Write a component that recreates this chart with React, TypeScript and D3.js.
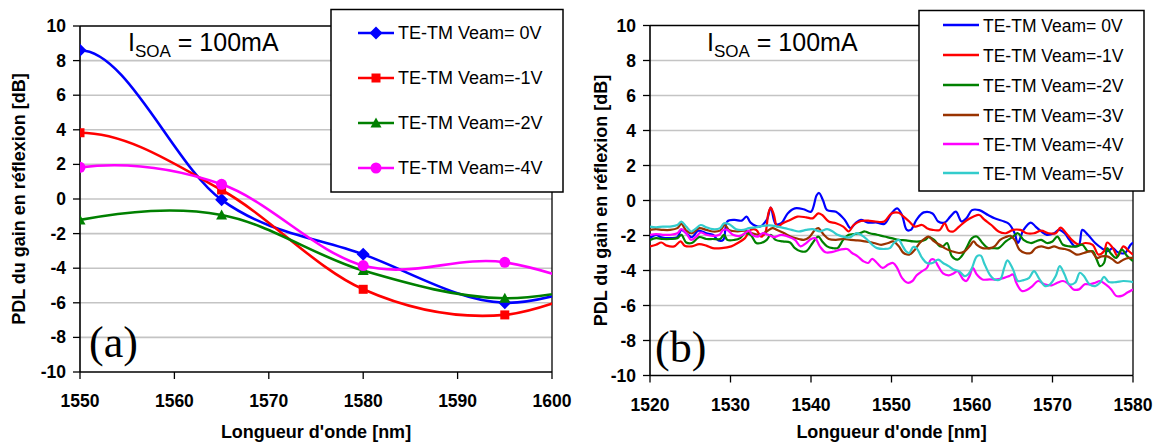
import React from "react";
import * as d3 from "d3";

// ---------- Panel (a) data (1535 and 1610 lie outside the axis range and are clipped) ----------
const A_WAVELENGTHS = [1535, 1550, 1565, 1580, 1595, 1610];
const A_VEAM_0V = [0.0, 8.6, -0.05, -3.2, -6.0, -3.8];
const A_VEAM_M1V = [0.5, 3.83, 0.52, -5.22, -6.7, -3.8];
const A_VEAM_M2V = [-3.9, -1.21, -0.92, -4.14, -5.74, -4.4];
const A_VEAM_M4V = [-1.15, 1.83, 0.85, -3.85, -3.66, -6.2];
const A_LABELS = ["TE-TM Veam= 0V", "TE-TM Veam=-1V", "TE-TM Veam=-2V", "TE-TM Veam=-4V"];
const A_X_TICKS = [1550, 1560, 1570, 1580, 1590, 1600];

// ---------- Panel (b) data ([wavelength nm, dB]) ----------
const B_VEAM_0V: [number, number][] = [[1520,-2.15],[1520.75,-1.96],[1521.4,-2.1],[1522.5,-2.15],[1523.4,-2.1],[1523.9,-1.68],[1524.5,-1.87],[1525.2,-2.1],[1526,-1.72],[1527,-1.87],[1527.8,-1.96],[1528.5,-2.28],[1529.1,-2.25],[1529.6,-1.2],[1530.5,-1.11],[1531.4,-1.15],[1532,-0.92],[1532.5,-1.26],[1533.6,-1.49],[1534.5,-1.11],[1535,-0.4],[1535.6,-1.34],[1536.3,-1.3],[1537.1,-0.74],[1538,-0.45],[1539.1,-0.5],[1540,-0.64],[1540.7,0.3],[1541,0.43],[1541.5,0],[1542,-0.55],[1543.1,-0.64],[1544.2,-1.11],[1544.9,-1.58],[1545.6,-1.26],[1546.2,-1.11],[1547.1,-1.26],[1548.2,-1.26],[1549.1,-1.34],[1550,-0.74],[1550.7,-0.45],[1551.3,-0.83],[1551.9,-1.68],[1552.4,-1.68],[1553.1,-1.11],[1554,-0.68],[1555.1,-0.74],[1555.8,-1.2],[1556.6,-1.26],[1557.3,-0.92],[1558,-0.64],[1558.7,-1.2],[1559.3,-1.02],[1560,-0.55],[1560.9,-0.55],[1562,-0.83],[1562.8,-1.02],[1564,-1.2],[1564.6,-1.34],[1565.3,-1.87],[1565.7,-2.43],[1566.4,-1.68],[1567.3,-1.26],[1567.9,-1.49],[1568.6,-1.77],[1569.3,-1.96],[1570.2,-1.87],[1570.8,-1.68],[1571.5,-1.87],[1572.1,-2.25],[1572.8,-2.62],[1573.3,-2.53],[1573.7,-1.68],[1574.4,-1.96],[1575.3,-2.43],[1576.1,-2.72],[1576.8,-2.9],[1577.5,-2.72],[1578.1,-2.96],[1579,-3.0],[1579.7,-2.53],[1580,-2.4]];
const B_VEAM_M1V: [number, number][] = [[1520,-2.62],[1520.75,-2.53],[1521.4,-2.4],[1522.1,-2.58],[1523,-2.62],[1523.8,-2.34],[1524.3,-2.58],[1525.2,-2.62],[1526.1,-2.49],[1527,-2.58],[1527.8,-2.72],[1528.9,-2.72],[1530.1,-2.62],[1530.9,-2.43],[1531.8,-2.15],[1532.5,-1.68],[1533.2,-1.68],[1533.8,-2.06],[1534.3,-1.87],[1534.7,-0.74],[1535,-0.4],[1535.4,-0.83],[1535.8,-1.49],[1536.5,-1.3],[1537.4,-1.11],[1538.3,-0.92],[1539.4,-0.96],[1540.2,-1.02],[1540.9,-0.74],[1541.4,-0.83],[1542.2,-1.2],[1543.1,-1.3],[1544,-1.49],[1544.7,-1.77],[1545.3,-1.4],[1546.2,-1.17],[1547.1,-1.15],[1548,-1.2],[1549.1,-1.2],[1550,-0.74],[1550.9,-0.7],[1551.5,-0.92],[1552.2,-1.2],[1552.9,-1.49],[1553.8,-1.4],[1554.4,-1.58],[1555.1,-1.68],[1556,-1.68],[1556.6,-1.3],[1557.1,-1.72],[1557.7,-1.77],[1558.4,-1.49],[1559.3,-1.15],[1560.2,-0.92],[1560.9,-0.83],[1561.5,-1.08],[1562.4,-1.4],[1563.3,-1.77],[1564.2,-1.87],[1565.1,-1.68],[1566,-1.68],[1566.8,-1.87],[1567.7,-1.87],[1568.6,-1.72],[1569.5,-1.87],[1570.4,-1.87],[1571,-1.55],[1571.7,-1.87],[1572.4,-2.25],[1573.3,-2.53],[1574.1,-2.43],[1575,-2.53],[1575.7,-3.09],[1576.4,-2.9],[1576.8,-2.4],[1577.5,-2.72],[1578.1,-3.19],[1578.8,-2.62],[1579.5,-2.9],[1580,-3.09]];
const B_VEAM_M2V: [number, number][] = [[1520,-2.25],[1520.75,-2.15],[1521.6,-2.2],[1522.5,-2.2],[1523.4,-2.15],[1523.9,-1.96],[1524.5,-2.4],[1525.2,-2.43],[1526.1,-2.09],[1527,-2.2],[1527.8,-2.2],[1528.7,-2.2],[1529.2,-1.96],[1529.6,-2.25],[1530.5,-2.25],[1531.2,-2.15],[1531.8,-1.87],[1532.5,-1.96],[1533.2,-2.43],[1533.8,-2.43],[1534.5,-2.25],[1535,-1.96],[1535.6,-2.25],[1536.5,-2.34],[1537.4,-2.4],[1538,-2.72],[1538.7,-2.9],[1539.4,-2.9],[1540.2,-2.43],[1540.9,-2.06],[1541.4,-2.34],[1542,-2.62],[1542.7,-2.72],[1543.3,-2.72],[1544,-2.25],[1544.7,-1.96],[1545.3,-1.92],[1546,-1.87],[1546.7,-1.77],[1547.3,-1.87],[1548.2,-1.96],[1549.1,-2.06],[1550,-2.15],[1550.9,-2.25],[1551.8,-2.28],[1552.7,-2.34],[1553.5,-2.34],[1554.2,-2.25],[1554.6,-2.09],[1555.3,-2.25],[1556,-2.62],[1556.4,-2.62],[1556.9,-2.43],[1557.5,-3.19],[1558.2,-3.38],[1558.7,-3.19],[1559.3,-2.72],[1560,-2.15],[1560.6,-2.06],[1561.3,-2.43],[1562,-2.72],[1562.6,-2.72],[1563.3,-2.72],[1564.2,-2.34],[1565.1,-2.06],[1565.7,-1.87],[1566.4,-2.25],[1567.3,-2.43],[1567.9,-2.34],[1568.6,-2.25],[1569.3,-2.43],[1570,-2.34],[1570.6,-2.06],[1571.3,-2.53],[1572.1,-2.62],[1573,-2.62],[1573.7,-2.53],[1574.4,-2.9],[1575,-2.9],[1575.5,-3.38],[1575.9,-3.75],[1576.4,-3.57],[1576.8,-2.72],[1577.2,-3.0],[1577.9,-3.28],[1578.6,-2.81],[1579.3,-3.19],[1580,-3.47]];
const B_VEAM_M3V: [number, number][] = [[1520,-1.68],[1520.75,-1.64],[1521.6,-1.68],[1522.5,-1.68],[1523.4,-1.58],[1523.9,-1.34],[1524.5,-1.72],[1525.2,-1.87],[1526.1,-1.58],[1527,-1.68],[1527.8,-1.77],[1528.7,-1.72],[1529.3,-1.4],[1529.8,-1.68],[1530.9,-1.77],[1531.8,-1.72],[1532.7,-1.87],[1533.6,-1.96],[1534.5,-1.77],[1535.2,-1.58],[1535.8,-1.68],[1536.7,-1.87],[1537.6,-2.09],[1538.5,-2.2],[1539.1,-2.25],[1539.8,-2.09],[1540.5,-1.68],[1540.9,-1.58],[1541.6,-1.96],[1542.2,-2.2],[1543.1,-2.25],[1544,-2.2],[1544.9,-2.25],[1545.8,-2.28],[1546.7,-2.34],[1547.8,-2.43],[1548.7,-2.53],[1549.6,-2.43],[1550.2,-2.34],[1550.9,-2.62],[1551.5,-3.0],[1552.2,-3.09],[1552.9,-2.81],[1553.5,-2.43],[1554.2,-2.15],[1554.6,-2.06],[1555.3,-2.34],[1556,-2.53],[1556.6,-2.72],[1557.5,-2.9],[1558.4,-3.0],[1559.1,-2.9],[1559.7,-2.62],[1560.2,-2.34],[1560.6,-2.53],[1561.3,-2.72],[1562.2,-2.72],[1562.8,-2.62],[1563.5,-2.25],[1564.2,-2.09],[1564.8,-2.02],[1565.3,-2.25],[1565.9,-2.81],[1566.6,-3.0],[1567.3,-3.0],[1567.9,-2.72],[1568.6,-2.62],[1569.5,-2.72],[1570.2,-2.62],[1570.8,-2.72],[1571.5,-2.77],[1572.1,-2.85],[1573,-3.09],[1573.9,-3.0],[1574.8,-2.9],[1575.5,-3.28],[1576.1,-3.19],[1576.8,-3.19],[1577.5,-3.38],[1578.1,-3.57],[1578.8,-3.38],[1579.5,-3.28],[1580,-3.28]];
const B_VEAM_M4V: [number, number][] = [[1520,-1.96],[1520.75,-1.92],[1521.6,-1.96],[1522.5,-1.96],[1523.4,-1.87],[1523.9,-1.64],[1524.5,-1.87],[1525.1,-2.25],[1525.7,-2.09],[1526.3,-1.83],[1527,-1.96],[1527.8,-2.02],[1528.6,-1.96],[1529.1,-1.68],[1529.6,-1.68],[1530.3,-1.96],[1531.2,-2.02],[1531.8,-1.87],[1532.3,-1.72],[1532.7,-1.96],[1533.4,-2.06],[1534,-1.87],[1534.7,-1.96],[1535.4,-2.09],[1536.3,-1.96],[1537.1,-2.06],[1538,-2.25],[1538.7,-2.62],[1539.4,-2.43],[1540,-2.2],[1540.5,-2.15],[1541.1,-2.62],[1541.8,-2.96],[1542.7,-2.94],[1543.6,-2.81],[1544.5,-2.77],[1545.1,-3.0],[1545.8,-3.19],[1546.5,-3.47],[1547.1,-3.57],[1547.6,-3.34],[1548.2,-3.57],[1548.9,-3.85],[1549.6,-3.66],[1550.2,-3.57],[1550.7,-3.85],[1551.3,-4.42],[1552,-4.7],[1552.6,-4.6],[1553.1,-4.28],[1553.8,-4.04],[1554.4,-3.85],[1554.9,-3.38],[1555.3,-3.38],[1555.8,-3.75],[1556.4,-4.17],[1557.1,-4.28],[1557.7,-4.17],[1558.2,-4.04],[1558.9,-4.51],[1559.3,-4.6],[1559.7,-4.32],[1560.1,-3.85],[1560.6,-4.23],[1561.3,-4.51],[1562.2,-4.51],[1563.1,-4.51],[1564,-4.42],[1564.6,-4.32],[1565.1,-4.23],[1565.5,-4.7],[1566.2,-5.17],[1566.8,-5.11],[1567.5,-4.89],[1568.2,-4.6],[1569,-4.79],[1569.9,-4.85],[1570.6,-4.7],[1571.3,-4.6],[1571.9,-4.74],[1572.6,-5.08],[1573.3,-5.08],[1574,-4.79],[1574.6,-4.79],[1575.3,-4.7],[1575.9,-4.6],[1576.6,-4.79],[1577.3,-5.08],[1577.9,-5.45],[1578.6,-5.45],[1579.3,-5.26],[1580,-5.08]];
const B_VEAM_M5V: [number, number][] = [[1520,-1.49],[1520.75,-1.53],[1521.6,-1.49],[1522.5,-1.49],[1523.4,-1.4],[1523.9,-1.21],[1524.5,-1.49],[1525.1,-1.77],[1525.6,-1.64],[1526.3,-1.4],[1527,-1.53],[1527.8,-1.64],[1528.7,-1.58],[1529.2,-1.3],[1529.8,-1.34],[1530.7,-1.64],[1531.6,-1.68],[1532.3,-1.58],[1533.2,-1.53],[1534,-1.45],[1534.9,-1.42],[1535.8,-1.49],[1536.7,-1.58],[1537.6,-1.68],[1538.5,-1.77],[1539.4,-1.68],[1540.2,-1.64],[1541.1,-1.77],[1542,-1.64],[1542.7,-1.77],[1543.3,-1.96],[1544.2,-2.09],[1544.9,-2.09],[1545.6,-1.87],[1546.2,-1.96],[1546.9,-2.2],[1547.6,-2.53],[1548.2,-2.72],[1549.1,-2.77],[1549.8,-2.72],[1550.3,-2.43],[1550.9,-2.25],[1551.3,-2.53],[1551.8,-2.9],[1552.2,-3.0],[1552.7,-2.66],[1553.1,-2.72],[1553.8,-3.28],[1554.4,-3.57],[1555.1,-3.57],[1555.8,-3.38],[1556.4,-3.57],[1557.1,-3.75],[1557.7,-3.94],[1558.4,-4.04],[1559.1,-4.32],[1559.5,-4.23],[1560,-3.85],[1560.6,-3.19],[1561.1,-3.15],[1561.5,-3.57],[1562.2,-4.23],[1562.8,-4.51],[1563.5,-4.51],[1564,-3.85],[1564.4,-3.42],[1565.1,-3.94],[1565.7,-4.6],[1566.4,-4.55],[1567.1,-4.42],[1567.7,-4.04],[1568.4,-4.51],[1569.1,-4.89],[1569.7,-4.79],[1570.4,-4.32],[1570.9,-3.75],[1571.5,-4.23],[1572.1,-4.79],[1572.8,-4.7],[1573.4,-4.13],[1573.9,-4.32],[1574.6,-4.79],[1575.3,-4.89],[1575.9,-4.7],[1576.4,-4.36],[1577,-4.66],[1577.9,-4.66],[1578.8,-4.6],[1580,-4.66]];
const B_LABELS = ["TE-TM Veam= 0V", "TE-TM Veam=-1V", "TE-TM Veam=-2V", "TE-TM Veam=-3V", "TE-TM Veam=-4V", "TE-TM Veam=-5V"];
const B_X_TICKS = [1520, 1530, 1540, 1550, 1560, 1570, 1580];

const Y_TICKS = [-10, -8, -6, -4, -2, 0, 2, 4, 6, 8, 10];
const Y_TITLE = "PDL du gain en réflexion [dB]";
const X_TITLE = "Longueur d'onde [nm]";

const SANS = "'Liberation Sans', Arial, sans-serif";
const SERIF = "'Liberation Serif', 'Times New Roman', serif";
const A_COLORS = ["#0000ff", "#ff0000", "#008000", "#ff00ff"];
const B_COLORS = ["#0000ff", "#ff0000", "#008000", "#993300", "#ff00ff", "#33cccc"];
const A_MARKERS = ["diamond", "square", "triangle", "circle"];

function Marker({ type, x, y, color }: { type: string; x: number; y: number; color: string }) {
  if (type === "diamond") {
    const r = 6.5;
    return <path d={`M${x},${y - r}L${x + r},${y}L${x},${y + r}L${x - r},${y}Z`} fill={color} />;
  }
  if (type === "square") {
    const s = 9;
    return <rect x={x - s / 2} y={y - s / 2} width={s} height={s} fill={color} />;
  }
  if (type === "triangle") {
    return <path d={`M${x},${y - 5.5}L${x + 5.5},${y + 4.5}L${x - 5.5},${y + 4.5}Z`} fill={color} />;
  }
  return <circle cx={x} cy={y} r={5.5} fill={color} />;
}

function Frame({ x0, x1, y0, y1, xTicks, clipId }: any) {
  const y = d3.scaleLinear().domain([-10, 10]).range([y1, y0]);
  const x = d3.scaleLinear().domain([xTicks[0], xTicks[xTicks.length - 1]]).range([x0, x1]);
  return (
    <g>
      <defs>
        <clipPath id={clipId}>
          <rect x={x0} y={y0} width={x1 - x0} height={y1 - y0} />
        </clipPath>
      </defs>
      {Y_TICKS.filter((t) => t > -10 && t < 10).map((t) => (
        <line key={"g" + t} x1={x0} x2={x1} y1={y(t)} y2={y(t)} stroke="#c4c4c4" strokeWidth={1.6} />
      ))}
      <line x1={x0} x2={x1} y1={y0} y2={y0} stroke="#000" strokeWidth={1.3} />
      <line x1={x1} x2={x1} y1={y0} y2={y1} stroke="#000" strokeWidth={1.3} />
      <line x1={x0} x2={x0} y1={y0} y2={y1} stroke="#000" strokeWidth={1.6} />
      <line x1={x0} x2={x1} y1={y1} y2={y1} stroke="#000" strokeWidth={1.6} />
      {Y_TICKS.map((t) => (
        <g key={"y" + t}>
          <line x1={x0 - 7} x2={x0} y1={y(t)} y2={y(t)} stroke="#000" strokeWidth={1.3} />
          <text x={x0 - 14} y={y(t) + 6} textAnchor="end" fontFamily={SANS} fontWeight="bold" fontSize={17.5}>
            {t}
          </text>
        </g>
      ))}
      {xTicks.map((t: number) => (
        <g key={"x" + t}>
          <line x1={x(t)} x2={x(t)} y1={y1} y2={y1 + 7} stroke="#000" strokeWidth={1.3} />
          <text x={x(t)} y={y1 + 35} textAnchor="middle" fontFamily={SANS} fontWeight="bold" fontSize={17.5}>
            {t}
          </text>
        </g>
      ))}
    </g>
  );
}

function Titles({ x0, x1, y0, y1, ytx, label, labelX, labelY, isoaX }: any) {
  const cy = (y0 + y1) / 2;
  return (
    <g>
      <text
        transform={`translate(${ytx},${cy}) rotate(-90)`}
        textAnchor="middle"
        fontFamily={SANS}
        fontWeight="bold"
        fontSize={18}
      >
        {Y_TITLE}
      </text>
      <text x={(x0 + x1) / 2} y={438} textAnchor="middle" fontFamily={SANS} fontWeight="bold" fontSize={18}>
        {X_TITLE}
      </text>
      <text x={isoaX} y={51} fontFamily={SANS} fontSize={25}>
        I<tspan fontSize={17} dy={6}>SOA</tspan>
        <tspan dy={-6}> = 100mA</tspan>
      </text>
      <text x={labelX} y={labelY} fontFamily={SERIF} fontSize={44}>
        {label}
      </text>
    </g>
  );
}

export default function App() {
  // Panel (a)
  const ax0 = 80, ax1 = 552, ay0 = 26, ay1 = 372;
  const xa = d3.scaleLinear().domain([1550, 1600]).range([ax0, ax1]);
  const ya = d3.scaleLinear().domain([-10, 10]).range([ay1, ay0]);
  const aSeries = [A_VEAM_0V, A_VEAM_M1V, A_VEAM_M2V, A_VEAM_M4V];
  const lineA = d3
    .line<[number, number]>()
    .x((d) => xa(d[0]))
    .y((d) => ya(d[1]))
    .curve(d3.curveCardinal.tension(0));

  // Panel (b)
  const bx0 = 650, bx1 = 1133, by0 = 25.5, by1 = 375.5;
  const xb = d3.scaleLinear().domain([1520, 1580]).range([bx0, bx1]);
  const yb = d3.scaleLinear().domain([-10, 10]).range([by1, by0]);
  const bSeries = [B_VEAM_0V, B_VEAM_M1V, B_VEAM_M2V, B_VEAM_M3V, B_VEAM_M4V, B_VEAM_M5V];
  const lineB = d3
    .line<[number, number]>()
    .x((d) => xb(d[0]))
    .y((d) => yb(d[1]))
    .curve(d3.curveCatmullRom.alpha(0.5));

  const aRows = [33, 78, 123, 168];
  const bRows = [25, 55, 85, 115, 144, 173];

  return (
    <svg
      width={1157}
      height={446}
      style={{ position: "absolute", left: 0, top: 0, background: "#fff" }}
    >
      <rect x={0} y={0} width={1157} height={446} fill="#fff" />
      {/* Panel (a) */}
      <Frame x0={ax0} x1={ax1} y0={ay0} y1={ay1} xTicks={A_X_TICKS} clipId="clipA" />
      <Titles x0={ax0} x1={ax1} y0={ay0} y1={ay1} ytx={25} label="(a)" labelX={89} labelY={357} isoaX={128} />
      <g clipPath="url(#clipA)">
        {aSeries.map((vals, i) => {
          const pts = A_WAVELENGTHS.map((w, j) => [w, vals[j]] as [number, number]);
          return (
            <g key={i}>
              <path d={lineA(pts) || ""} fill="none" stroke={A_COLORS[i]} strokeWidth={2.6} />
              {pts.map((p, j) => (
                <Marker key={j} type={A_MARKERS[i]} x={xa(p[0])} y={ya(p[1])} color={A_COLORS[i]} />
              ))}
            </g>
          );
        })}
      </g>
      <rect x={331} y={9.5} width={232} height={182.5} fill="#fff" stroke="#000" strokeWidth={1.5} />
      {A_LABELS.map((lab, i) => (
        <g key={lab}>
          <line x1={358} x2={394} y1={aRows[i]} y2={aRows[i]} stroke={A_COLORS[i]} strokeWidth={2.6} />
          <Marker type={A_MARKERS[i]} x={376} y={aRows[i]} color={A_COLORS[i]} />
          <text x={398} y={aRows[i] + 6.3} fontFamily={SANS} fontSize={18} fill="#000">
            {lab}
          </text>
        </g>
      ))}

      {/* Panel (b) */}
      <Frame x0={bx0} x1={bx1} y0={by0} y1={by1} xTicks={B_X_TICKS} clipId="clipB" />
      <Titles x0={bx0} x1={bx1} y0={by0} y1={by1} ytx={607} label="(b)" labelX={655} labelY={362} isoaX={707} />
      <g clipPath="url(#clipB)">
        {bSeries.map((pts, i) => (
          <path key={i} d={lineB(pts) || ""} fill="none" stroke={B_COLORS[i]} strokeWidth={2.2} strokeLinejoin="round" />
        ))}
      </g>
      <rect x={919} y={10.5} width={225} height={180.5} fill="#fff" stroke="#000" strokeWidth={1.5} />
      {B_LABELS.map((lab, i) => (
        <g key={lab}>
          <line x1={943} x2={979} y1={bRows[i]} y2={bRows[i]} stroke={B_COLORS[i]} strokeWidth={2.6} />
          <text x={983} y={bRows[i] + 6.5} fontFamily={SANS} fontSize={17.5} fill="#000">
            {lab}
          </text>
        </g>
      ))}
    </svg>
  );
}
